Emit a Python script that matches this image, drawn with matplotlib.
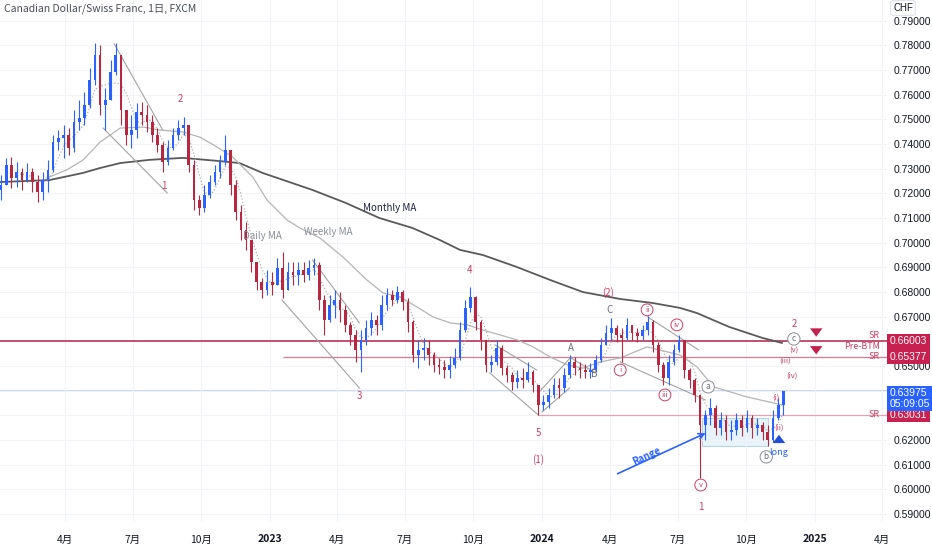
import numpy as np
import pandas as pd
import matplotlib
matplotlib.use("Agg")
import matplotlib.pyplot as plt
import matplotlib.dates as mdates
from matplotlib.patches import Rectangle
from matplotlib.transforms import blended_transform_factory

plt.rcParams['font.family'] = ['Noto Sans CJK JP', 'DejaVu Sans']
NARROW = ['Liberation Sans Narrow', 'Liberation Sans', 'DejaVu Sans']

# weekly candles, week of 2022-01-03 .. week of 2024-11-18
week_start = "2022-01-05"
first_open = 0.7214
closes = [
    0.7234, 0.7315, 0.7263, 0.7287, 0.7254, 0.7287, 0.7246, 0.7206, 0.7254, 0.7295,
    0.7408, 0.7425, 0.7437, 0.7384, 0.7490, 0.7506, 0.7558, 0.7660, 0.7761, 0.7558,
    0.7579, 0.7692, 0.7761, 0.7538, 0.7437, 0.7457, 0.7530, 0.7518, 0.7490, 0.7437,
    0.7396, 0.7327, 0.7384, 0.7437, 0.7465, 0.7477, 0.7315, 0.7173, 0.7141, 0.7194,
    0.7246, 0.7287, 0.7327, 0.7376, 0.7234, 0.7125, 0.7052, 0.7011, 0.6922, 0.6841,
    0.6809, 0.6841, 0.6829, 0.6898, 0.6809, 0.6882, 0.6869, 0.6890, 0.6869, 0.6898,
    0.6910, 0.6768, 0.6687, 0.6748, 0.6768, 0.6728, 0.6667, 0.6626, 0.6566, 0.6606,
    0.6655, 0.6687, 0.6667, 0.6748, 0.6788, 0.6768, 0.6801, 0.6760, 0.6679, 0.6545,
    0.6566, 0.6574, 0.6545, 0.6505, 0.6497, 0.6484, 0.6505, 0.6533, 0.6647, 0.6736,
    0.6780, 0.6679, 0.6606, 0.6505, 0.6517, 0.6574, 0.6492, 0.6464, 0.6436, 0.6452,
    0.6444, 0.6476, 0.6424, 0.6343, 0.6355, 0.6383, 0.6424, 0.6411, 0.6464, 0.6517,
    0.6492, 0.6484, 0.6476, 0.6484, 0.6525, 0.6586, 0.6634, 0.6655, 0.6626, 0.6614,
    0.6667, 0.6634, 0.6622, 0.6647, 0.6679, 0.6586, 0.6505, 0.6452, 0.6517, 0.6566,
    0.6606, 0.6484, 0.6444, 0.6383, 0.6261, 0.6302, 0.6330, 0.6249, 0.6282, 0.6233,
    0.6241, 0.6282, 0.6249, 0.6290, 0.6249, 0.6261, 0.6233, 0.6201, 0.6290, 0.6343,
    0.63975]
highs = [
    0.7275, 0.7344, 0.7348, 0.7327, 0.7303, 0.7323, 0.7303, 0.7275, 0.7287, 0.7336,
    0.7437, 0.7457, 0.7477, 0.7465, 0.7538, 0.7579, 0.7611, 0.7708, 0.7810, 0.7802,
    0.7627, 0.7741, 0.7810, 0.7761, 0.7538, 0.7518, 0.7567, 0.7571, 0.7558, 0.7518,
    0.7465, 0.7408, 0.7417, 0.7465, 0.7498, 0.7510, 0.7477, 0.7336, 0.7194, 0.7234,
    0.7275, 0.7315, 0.7356, 0.7437, 0.7368, 0.7254, 0.7153, 0.7084, 0.7011, 0.6922,
    0.6857, 0.6890, 0.6882, 0.6938, 0.6961, 0.6922, 0.6922, 0.6922, 0.6922, 0.6930,
    0.6938, 0.6922, 0.6788, 0.6788, 0.6809, 0.6801, 0.6748, 0.6679, 0.6647, 0.6647,
    0.6687, 0.6719, 0.6707, 0.6788, 0.6817, 0.6809, 0.6825, 0.6809, 0.6776, 0.6687,
    0.6606, 0.6614, 0.6606, 0.6557, 0.6533, 0.6525, 0.6541, 0.6574, 0.6679, 0.6768,
    0.6821, 0.6784, 0.6687, 0.6606, 0.6545, 0.6606, 0.6586, 0.6505, 0.6476, 0.6484,
    0.6492, 0.6517, 0.6484, 0.6424, 0.6383, 0.6411, 0.6452, 0.6452, 0.6492, 0.6545,
    0.6537, 0.6517, 0.6509, 0.6513, 0.6545, 0.6614, 0.6667, 0.6695, 0.6667, 0.6655,
    0.6695, 0.6667, 0.6655, 0.6667, 0.6703, 0.6687, 0.6598, 0.6517, 0.6545, 0.6590,
    0.6626, 0.6606, 0.6492, 0.6452, 0.6383, 0.6322, 0.6371, 0.6343, 0.6314, 0.6302,
    0.6282, 0.6310, 0.6302, 0.6322, 0.6302, 0.6290, 0.6274, 0.6261, 0.6322, 0.6371,
    0.6398]
lows = [
    0.7173, 0.7234, 0.7222, 0.7226, 0.7214, 0.7246, 0.7206, 0.7165, 0.7173, 0.7206,
    0.7287, 0.7376, 0.7344, 0.7356, 0.7368, 0.7457, 0.7477, 0.7546, 0.7639, 0.7518,
    0.7457, 0.7579, 0.7680, 0.7477, 0.7396, 0.7384, 0.7425, 0.7477, 0.7449, 0.7408,
    0.7368, 0.7287, 0.7315, 0.7376, 0.7417, 0.7437, 0.7287, 0.7133, 0.7113, 0.7125,
    0.7182, 0.7234, 0.7263, 0.7315, 0.7194, 0.7092, 0.7011, 0.6971, 0.6882, 0.6809,
    0.6776, 0.6788, 0.6788, 0.6829, 0.6776, 0.6809, 0.6829, 0.6829, 0.6841, 0.6849,
    0.6869, 0.6728, 0.6626, 0.6679, 0.6695, 0.6679, 0.6638, 0.6586, 0.6517, 0.6476,
    0.6586, 0.6626, 0.6626, 0.6647, 0.6728, 0.6748, 0.6756, 0.6728, 0.6638, 0.6517,
    0.6492, 0.6525, 0.6505, 0.6476, 0.6468, 0.6452, 0.6452, 0.6492, 0.6525, 0.6638,
    0.6719, 0.6647, 0.6566, 0.6476, 0.6476, 0.6505, 0.6464, 0.6436, 0.6403, 0.6411,
    0.6411, 0.6436, 0.6395, 0.6303, 0.6322, 0.6330, 0.6371, 0.6371, 0.6395, 0.6452,
    0.6464, 0.6452, 0.6452, 0.6452, 0.6476, 0.6517, 0.6586, 0.6606, 0.6598, 0.6517,
    0.6606, 0.6606, 0.6598, 0.6606, 0.6626, 0.6557, 0.6476, 0.6424, 0.6424, 0.6505,
    0.6557, 0.6452, 0.6411, 0.6355, 0.6047, 0.6201, 0.6261, 0.6221, 0.6221, 0.6201,
    0.6201, 0.6221, 0.6217, 0.6233, 0.6209, 0.6221, 0.6201, 0.6176, 0.6193, 0.6282,
    0.6302]

monthly_ma_dates = ["2022-01-03", "2022-03-11", "2022-04-25", "2022-05-18", "2022-06-14",
                    "2022-07-23", "2022-09-06", "2022-10-22", "2022-11-21", "2022-12-22",
                    "2023-02-27", "2023-04-13", "2023-05-28", "2023-07-11", "2023-08-17",
                    "2023-09-13", "2023-10-14", "2023-11-28", "2024-01-12", "2024-02-25",
                    "2024-04-15", "2024-05-28", "2024-07-04", "2024-07-27", "2024-09-08",
                    "2024-10-23", "2024-11-18"]
monthly_ma = [0.7246, 0.7254, 0.7283, 0.7303, 0.7323, 0.7336, 0.7344, 0.7332, 0.7323, 0.7283,
              0.7214, 0.7161, 0.7100, 0.7060, 0.7011, 0.6971, 0.6950, 0.6902, 0.6849, 0.6800,
              0.6772, 0.6756, 0.6736, 0.6715, 0.6659, 0.6614, 0.6594]

weekly_ma_dates = ["2022-03-07", "2022-04-03", "2022-04-25", "2022-05-18", "2022-06-14",
                   "2022-07-15", "2022-08-06", "2022-09-06", "2022-09-29", "2022-10-22",
                   "2022-11-12", "2022-12-09", "2022-12-28", "2023-01-24", "2023-02-10",
                   "2023-03-09", "2023-04-09", "2023-05-11", "2023-06-02", "2023-06-25",
                   "2023-07-17", "2023-08-08", "2023-08-31", "2023-09-23", "2023-10-14",
                   "2023-11-06", "2023-11-29", "2023-12-20", "2024-01-12", "2024-02-04",
                   "2024-02-25", "2024-03-19", "2024-04-15", "2024-05-21", "2024-07-04",
                   "2024-07-27", "2024-08-18", "2024-10-02", "2024-11-18"]
weekly_ma = [0.7262, 0.7295, 0.7335, 0.7408, 0.7465, 0.7469, 0.7457, 0.7449, 0.7428, 0.7388,
             0.7347, 0.7266, 0.7173, 0.7092, 0.7060, 0.7019, 0.6942, 0.6849, 0.6796, 0.6780,
             0.6740, 0.6699, 0.6675, 0.6667, 0.6646, 0.6626, 0.6606, 0.6578, 0.6537, 0.6505,
             0.6492, 0.6517, 0.6533, 0.6578, 0.6545, 0.6497, 0.6416, 0.6375, 0.6343]

sr_top = 0.66003
sr_mid = 0.65377
sr_low = 0.63031
sr_mid_from = "2023-01-18"
sr_low_from = "2023-12-27"
last_price = 0.63975
countdown = "05:09:05"

range_box = ("2024-08-03", "2024-10-30", 0.6176, 0.6290)

trend_lines = [
    (("2022-06-06", 0.7806), ("2022-08-10", 0.7457)),
    (("2022-05-22", 0.7465), ("2022-08-16", 0.7202)),
    (("2023-02-27", 0.6930), ("2023-05-01", 0.6675)),
    (("2023-01-17", 0.6768), ("2023-05-01", 0.6411)),
    (("2023-10-30", 0.6586), ("2023-12-25", 0.6484)),
    (("2023-10-23", 0.6472), ("2023-12-27", 0.6302)),
    (("2023-12-27", 0.6391), ("2024-02-09", 0.6537)),
    (("2024-01-01", 0.6314), ("2024-02-07", 0.6411)),
    (("2024-02-09", 0.6533), ("2024-03-11", 0.6476)),
    (("2024-05-22", 0.6699), ("2024-07-29", 0.6566)),
    (("2024-04-15", 0.6517), ("2024-08-07", 0.6363)),
]

tick_dates = ["2022-04-01", "2022-07-01", "2022-10-01", "2023-01-01", "2023-04-01",
              "2023-07-01", "2023-10-01", "2024-01-01", "2024-04-01", "2024-07-01",
              "2024-10-01", "2025-01-01", "2025-04-01"]
tick_labels = ["4月", "7月", "10月", "2023", "4月", "7月", "10月", "2024", "4月", "7月",
               "10月", "2025", "4月"]
# price ticks hidden behind the price tags
hidden_price_ticks = [0.66, 0.64, 0.63]

UP = '#2962ff'
DOWN = '#b8263f'
RED = '#cf3d66'
GRAY_TXT = '#8a8d96'


def d(s):
    return mdates.date2num(pd.Timestamp(s))


fig = plt.figure(figsize=(9.32, 5.5), dpi=100)
ax = fig.add_axes([0, 28 / 550, 887 / 932, 522 / 550])
ax.set_xlim(d("2022-01-03 16:00"), d("2025-04-08"))
ax.set_ylim(0.5868, 0.7984)

# grid and axes
yt = np.round(np.arange(0.59, 0.7901, 0.01), 2)
ax.set_yticks(yt)
ax.set_yticklabels(["" if v in hidden_price_ticks else f"{v:.5f}" for v in yt])
ax.yaxis.tick_right()
ax.set_xticks([d(t) for t in tick_dates])
ax.set_xticklabels(tick_labels)
ax.grid(color='#f1f3f7', lw=0.8, zorder=0)
ax.tick_params(axis='both', length=0, labelsize=7.5, colors='#131722')
ax.tick_params(axis='y', pad=4.5)
ax.tick_params(axis='x', pad=9)
for lab in ax.get_yticklabels():
    lab.set_fontfamily(NARROW)
for lab in ax.get_xticklabels():
    if lab.get_text().isdigit():
        lab.set_fontweight('bold')
for sp in ax.spines.values():
    sp.set_visible(False)

# horizontal levels
x_right = ax.get_xlim()[1]
ax.axhline(last_price, color='#c9d6f7', lw=1.4, zorder=1)
ax.axhline(sr_top, color='#b5234a', lw=1.1, zorder=2)
ax.hlines(sr_mid, d(sr_mid_from), x_right, color='#d97993', lw=0.9, zorder=2)
ax.hlines(sr_low, d(sr_low_from), x_right, color='#e8a2b4', lw=0.9, zorder=2)

# range box
b0, b1, blo, bhi = range_box
ax.add_patch(Rectangle((d(b0), blo), d(b1) - d(b0), bhi - blo, facecolor='#e6f3fb',
                       edgecolor='#a9cde6', lw=0.6, zorder=1))

# moving averages
ax.plot([d(t) for t in monthly_ma_dates], monthly_ma, color='#5a5a5a', lw=1.3, zorder=3)
ax.plot([d(t) for t in weekly_ma_dates], weekly_ma, color='#b5b5b5', lw=0.9, zorder=3)
dates = pd.date_range(week_start, periods=len(closes), freq="7D")
x = mdates.date2num(dates)
daily_ma = pd.Series(closes).rolling(4).mean()
ax.plot(x, daily_ma, color='#b0b0b0', lw=0.9, ls=(0, (1, 1.6)), zorder=3)

# trend lines
for (t0, p0), (t1, p1) in trend_lines:
    ax.plot([d(t0), d(t1)], [p0, p1], color='#a3a3a3', lw=0.8, zorder=3)

# candles
opens = [first_open] + closes[:-1]
o = np.array(opens)
c = np.array(closes)
h = np.maximum.reduce([np.array(highs), o, c])
l = np.minimum.reduce([np.array(lows), o, c])
cols = np.where(c >= o, UP, DOWN)
ax.vlines(x, l, h, colors=cols, lw=0.8, zorder=4)
body = np.maximum(np.abs(c - o), 0.0003)
ax.bar(x, body, bottom=np.minimum(o, c), width=3.6, color=cols, lw=0, zorder=5)

# MA names
ax.text(d("2022-12-22"), 0.7026, "Daily MA", fontsize=7, color=GRAY_TXT, ha='center', va='center', zorder=6)
ax.text(d("2023-03-20"), 0.7044, "Weekly MA", fontsize=7, color=GRAY_TXT, ha='center', va='center', zorder=6)
ax.text(d("2023-06-11"), 0.7141, "Monthly MA", fontsize=7, color='#1c2140', ha='center', va='center', zorder=6)

# wave labels
for txt, t, p in [("2", "2022-09-03", 0.7583), ("1", "2022-08-11", 0.7230), ("3", "2023-05-01", 0.6379),
                  ("4", "2023-09-26", 0.6890), ("5", "2023-12-27", 0.6229), ("(1)", "2023-12-27", 0.6120),
                  ("(2)", "2024-03-30", 0.6797), ("1", "2024-08-01", 0.5929), ("2", "2024-12-04", 0.6671)]:
    ax.text(d(t), p, txt, fontsize=7, color=RED, ha='center', va='center', zorder=6)
for txt, t, p in [("A", "2024-02-09", 0.6574), ("B", "2024-03-11", 0.6468), ("C", "2024-04-01", 0.6728)]:
    ax.text(d(t), p, txt, fontsize=7, color='#6b6e78', ha='center', va='center', zorder=6)
for txt, t, p in [("i", "2024-04-15", 0.6484), ("ii", "2024-05-21", 0.6728), ("iii", "2024-06-14", 0.6383),
                  ("iv", "2024-06-30", 0.6667), ("v", "2024-08-01", 0.6018)]:
    ax.text(d(t), p, txt, fontsize=5.5, color=RED, ha='center', va='center', zorder=6,
            bbox=dict(boxstyle='circle,pad=0.25', fc='white', ec=RED, lw=0.7))
for txt, t, p in [("a", "2024-08-11", 0.6416), ("b", "2024-10-28", 0.6132), ("c", "2024-12-04", 0.6610)]:
    ax.text(d(t), p, txt, fontsize=6, color='#6b6e78', ha='center', va='center', zorder=6,
            bbox=dict(boxstyle='circle,pad=0.2', fc='white', ec='#8a8d96', lw=0.7))
for txt, t, p in [("(v)", "2024-12-04", 0.6561), ("(iii)", "2024-11-22", 0.6521), ("(iv)", "2024-12-01", 0.6460),
                  ("(i)", "2024-11-10", 0.6371), ("(ii)", "2024-11-14", 0.6249)]:
    ax.text(d(t), p, txt, fontsize=5.5, color=RED, ha='center', va='center', zorder=6)

# long arrow and label
ax.annotate('', xy=(d("2024-11-14"), 0.6233), xytext=(d("2024-11-14"), 0.6193),
            arrowprops=dict(arrowstyle='simple,head_width=0.9,head_length=0.6,tail_width=0.4',
                            color='#1f4fd8', lw=0), zorder=6)
ax.text(d("2024-11-14"), 0.6150, "long", fontsize=6.5, color='#2962ff', style='italic',
        ha='center', va='center', zorder=6)

# sell arrows
for p in [0.6640, 0.6568]:
    ax.annotate('', xy=(d("2025-01-03"), p - 0.0032), xytext=(d("2025-01-03"), p + 0.0004),
                arrowprops=dict(arrowstyle='simple,head_width=0.9,head_length=0.6,tail_width=0.4',
                                color='#c2224f', lw=0), zorder=6)

# range arrow
ax.annotate('', xy=(d("2024-08-11"), 0.6233), xytext=(d("2024-04-08"), 0.6059),
            arrowprops=dict(arrowstyle='->', color='#2962ff', lw=1.2), zorder=6)
ax.text(d("2024-05-20"), 0.6136, "Range", fontsize=7, color='#2962ff', style='italic',
        fontweight='bold', rotation=25, ha='center', va='center', zorder=6)

# level labels and price tags
tr = blended_transform_factory(ax.transAxes, ax.transData)
ax.text(0.992, sr_top + 0.0004, "SR", transform=tr, fontsize=6.5, color=RED, style='italic',
        ha='right', va='bottom', zorder=6)
ax.text(0.992, sr_top - 0.0002, "Pre-BTM", transform=tr, fontsize=6.5, color=RED, style='italic',
        ha='right', va='top', zorder=6)
for lv in [sr_mid, sr_low]:
    ax.text(0.992, lv, "SR", transform=tr, fontsize=6.5, color=RED, style='italic',
            ha='right', va='center', zorder=6)
for lv in [sr_top, sr_mid, sr_low]:
    ax.text(1.003, lv, f"{lv:.5f}", transform=tr, fontsize=7.5, color='white', ha='left',
            va='center', zorder=7, clip_on=False, family=NARROW,
            bbox=dict(boxstyle='square,pad=0.25', fc='#c8204f', ec='none'))
ax.annotate(f"{last_price:.5f}\n{countdown}", xy=(1.003, last_price), xycoords=tr,
            xytext=(0, -5.0), textcoords='offset points', fontsize=7.5, color='white',
            ha='left', va='center', linespacing=1.05, zorder=7, annotation_clip=False,
            family=NARROW,
            bbox=dict(boxstyle='square,pad=0.22', fc='#2962ff', ec='none'))

fig.text(4 / 932, 1 - 9 / 550, "Canadian Dollar/Swiss Franc, 1日, FXCM", fontsize=7.5,
         color='#4a4d57', ha='left', va='center')
fig.text(893 / 932, 1 - 8 / 550, "CHF", fontsize=7, color='#131722', ha='left', va='center',
         family=NARROW,
         bbox=dict(boxstyle='round,pad=0.25', fc='white', ec='#e0e3eb', lw=0.8))

fig.savefig("out.png", dpi=100)
